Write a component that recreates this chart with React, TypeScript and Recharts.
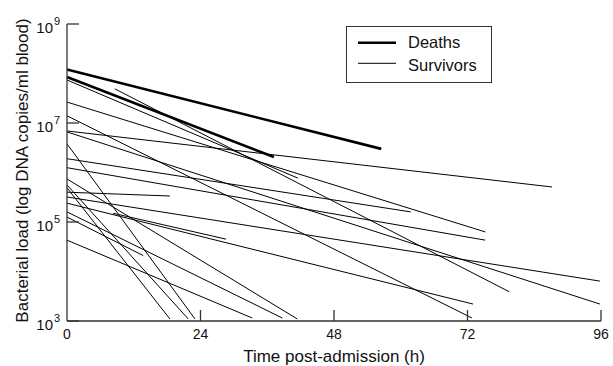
import { LineChart, Line, XAxis, YAxis } from 'recharts';

// each segment: [start h, start load, end h, end load]
type Segment = [number, number, number, number];

const deathSegments: Segment[] = [
  [0, 1.2e8, 56.5, 3.0e6],
  [0, 8.5e7, 37.2, 2.05e6],
];

const survivorSegments: Segment[] = [
  [8.6, 4.9e7, 79.5, 3.9e3],
  [0, 7.4e7, 41.5, 7.7e5],
  [0, 2.65e7, 75.2, 6.3e4],
  [0, 6.9e6, 87.2, 5.1e5],
  [0, 1.4e7, 72.8, 1.15e3],
  [0, 6.6e6, 95.8, 2.2e3],
  [0, 1.9e6, 61.8, 1.6e5],
  [0, 1.25e6, 75.2, 4.3e4],
  [0, 7.4e5, 41.4, 1.1e3],
  [0, 4.0e5, 18.5, 3.35e5],
  [0, 3.2e5, 95.8, 6.4e3],
  [0, 2.4e5, 73.0, 2.2e3],
  [8.3, 1.5e5, 28.6, 4.5e4],
  [0, 1.6e5, 38.7, 1.15e3],
  [0, 4.3e4, 33.3, 1.15e3],
  [0, 4.9e5, 18.5, 1.1e3],
  [0, 5.6e5, 21.8, 1.1e3],
  [0, 3.8e6, 23.0, 1.1e3],
  [0, 1.26e5, 13.7, 2.1e4],
];

const xTicks = [0, 24, 48, 72, 96];
const yTicks = [1e3, 1e5, 1e7, 1e9];

const toPoints = (s: Segment) => [
  { h: s[0], load: s[1] },
  { h: s[2], load: s[3] },
];

const FONT = 'Liberation Sans, Arial, sans-serif';
const AXIS = '#333';

function YTick(props: any) {
  const { y, payload } = props;
  const exp = Math.round(Math.log10(payload.value));
  return (
    <g>
      <line x1={67} x2={79} y1={y} y2={y} stroke={AXIS} strokeWidth={1.3} />
      <text x={53} y={y + 9} textAnchor="end" fontSize={15} fontFamily={FONT} fill="#111">
        10
      </text>
      <text x={54} y={y + 1} textAnchor="start" fontSize={11} fontFamily={FONT} fill="#111">
        {exp}
      </text>
    </g>
  );
}

function XTick(props: any) {
  const { x, payload } = props;
  return (
    <g>
      {payload.value > 0 && (
        <line x1={x} x2={x} y1={321} y2={310} stroke={AXIS} strokeWidth={1.3} />
      )}
      <text x={x} y={339} textAnchor="middle" fontSize={14} fontFamily={FONT} fill="#111">
        {payload.value}
      </text>
    </g>
  );
}

function LegendBox() {
  return (
    <svg width={146} height={57} style={{ display: 'block' }}>
      <rect x={0.5} y={0.5} width={145} height={56} fill="#fff" stroke={AXIS} />
      <line x1={12} x2={50} y1={16.7} y2={16.7} stroke="#000" strokeWidth={2.5} />
      <line x1={12} x2={50} y1={37.3} y2={37.3} stroke="#000" strokeWidth={1} />
      <text x={62} y={22} fontSize={16.5} fontFamily={FONT} fill="#111">Deaths</text>
      <text x={62} y={44.5} fontSize={16.5} fontFamily={FONT} fill="#111">Survivors</text>
    </svg>
  );
}

export default function App() {
  return (
    <div style={{ position: 'absolute', left: 0, top: 0, width: 613, height: 366, background: '#fff' }}>
      <LineChart width={613} height={366} margin={{ top: 24, right: 12, bottom: 0, left: 0 }}>
        <XAxis
          type="number"
          dataKey="h"
          domain={[0, 96]}
          ticks={xTicks}
          allowDuplicatedCategory={false}
          height={45}
          tickLine={false}
          axisLine={{ stroke: AXIS, strokeWidth: 1.3 }}
          tick={<XTick />}
          label={{ value: 'Time post-admission (h)', position: 'insideBottom', offset: 4, fontSize: 17, fontFamily: FONT, fill: '#111' }}
        />
        <YAxis
          type="number"
          dataKey="load"
          scale="log"
          domain={[1e3, 1e9]}
          ticks={yTicks}
          width={67}
          tickLine={false}
          axisLine={{ stroke: AXIS, strokeWidth: 1.3 }}
          tick={<YTick />}
          label={{ value: 'Bacterial load (log DNA copies/ml blood)', angle: -90, position: 'insideLeft', offset: 22, dy: -2, fontSize: 17, fontFamily: FONT, fill: '#111', style: { textAnchor: 'middle' } }}
          allowDataOverflow
        />
        {deathSegments.map((s, i) => (
          <Line
            key={'d' + i}
            data={toPoints(s)}
            dataKey="load"
            stroke="#000"
            strokeWidth={2.6}
            dot={false}
            isAnimationActive={false}
          />
        ))}
        {survivorSegments.map((s, i) => (
          <Line
            key={'s' + i}
            data={toPoints(s)}
            dataKey="load"
            stroke="#000"
            strokeWidth={1}
            dot={false}
            isAnimationActive={false}
          />
        ))}
      </LineChart>
      <div style={{ position: 'absolute', left: 346, top: 26 }}>
        <LegendBox />
      </div>
    </div>
  );
}
